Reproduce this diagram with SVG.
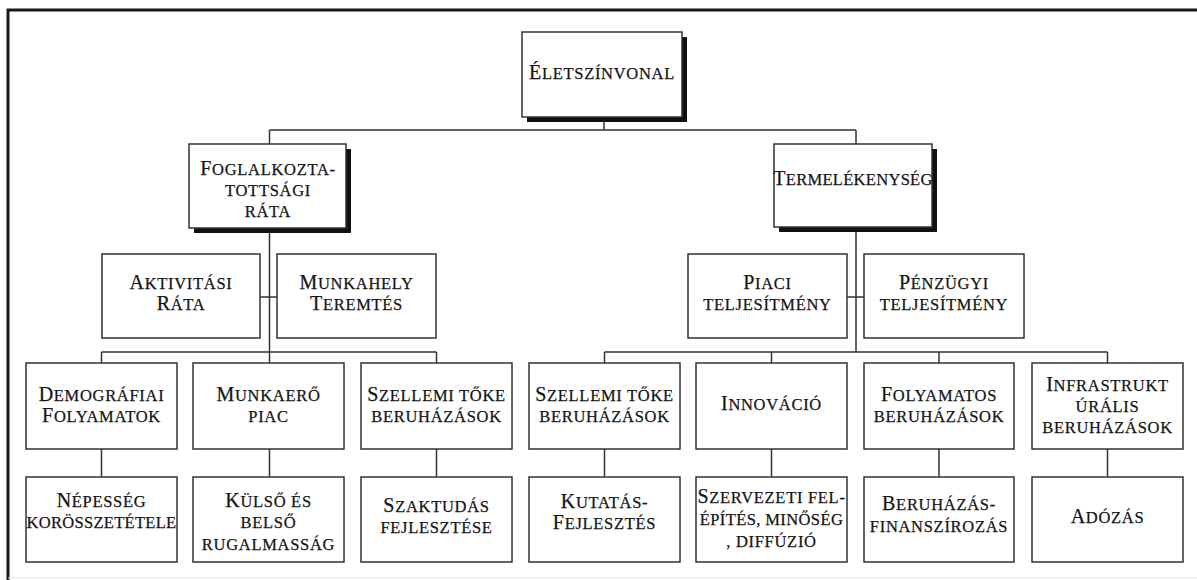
<svg xmlns="http://www.w3.org/2000/svg" width="1197" height="580" viewBox="0 0 1197 580">
<style>
.box{fill:#fff;stroke:#333;stroke-width:1.5}
.sh{fill:#111}
.t{font-family:"Liberation Serif","Times New Roman",serif;font-size:16.5px;fill:#151515;stroke:#151515;stroke-width:0.25px;text-anchor:middle;letter-spacing:0.7px}
.c{font-size:20px}
.ln{stroke:#333;stroke-width:1.5;fill:none}
.frame{stroke:#1a1a1a;stroke-width:3;fill:none}
</style>
<rect x="0" y="0" width="1197" height="580" fill="#fff"/>
<g id="frame">
<path class="frame" d="M8 580 V10 H1197"/>
<path d="M8 578 H1197" stroke="#e2e2e2" stroke-width="1"/>
</g>
<g id="connectors">
<path class="ln" d="M604 118 V130 M269.5 130 H856 M269.5 130 V144 M856 130 V144"/>
<path class="ln" d="M269.5 228 V363 M260 297 H277"/>
<path class="ln" d="M856 227 V352 M847 297 H864"/>
<path class="ln" d="M101.5 352 H436.5 M101.5 352 V363 M436.5 352 V363"/>
<path class="ln" d="M604.5 352 H1107.5 M604.5 352 V363 M771.5 352 V363 M939 352 V363 M1107.5 352 V363"/>
<path class="ln" d="M101.5 449 V477 M269.5 449 V477 M436.5 449 V477 M604.5 449 V477 M771.5 449 V477 M939 449 V477 M1107.5 449 V477"/>
</g>
<g id="n-eletszinvonal">
<rect class="sh" x="527" y="37" width="160" height="85"/>
<rect class="box" x="522" y="32" width="160" height="85"/>
<text class="t" x="602" y="79"><tspan class="c">É</tspan>LETSZÍNVONAL</text>
</g>
<g id="n-foglalkoztatottsagi-rata">
<rect class="sh" x="194" y="149" width="157" height="84"/>
<rect class="box" x="189" y="144" width="157" height="84"/>
<text class="t" x="268" y="175"><tspan class="c">F</tspan>OGLALKOZTA-</text>
<text class="t" x="268" y="196">TOTTSÁGI</text>
<text class="t" x="268" y="217">RÁTA</text>
</g>
<g id="n-termelekenyseg">
<rect class="sh" x="779" y="149" width="158" height="83"/>
<rect class="box" x="774" y="144" width="158" height="83"/>
<text class="t" x="853" y="185" style="letter-spacing:0.3px"><tspan class="c">T</tspan>ERMELÉKENYSÉG</text>
</g>
<g id="n-aktivitasi-rata">
<rect class="box" x="102" y="254" width="158" height="84"/>
<text class="t" x="181" y="289"><tspan class="c">A</tspan>KTIVITÁSI</text>
<text class="t" x="181" y="310"><tspan class="c">R</tspan>ÁTA</text>
</g>
<g id="n-munkahely-teremtes">
<rect class="box" x="277" y="254" width="159" height="84"/>
<text class="t" x="356.5" y="289"><tspan class="c">M</tspan>UNKAHELY</text>
<text class="t" x="356.5" y="310"><tspan class="c">T</tspan>EREMTÉS</text>
</g>
<g id="n-piaci-teljesitmeny">
<rect class="box" x="688" y="254" width="159" height="84"/>
<text class="t" x="767.5" y="289"><tspan class="c">P</tspan>IACI</text>
<text class="t" x="767.5" y="310">TELJESÍTMÉNY</text>
</g>
<g id="n-penzugyi-teljesitmeny">
<rect class="box" x="864" y="254" width="160" height="84"/>
<text class="t" x="944" y="289"><tspan class="c">P</tspan>ÉNZÜGYI</text>
<text class="t" x="944" y="310">TELJESÍTMÉNY</text>
</g>
<g id="n-demografiai">
<rect class="box" x="26" y="363" width="151" height="86"/>
<text class="t" x="101.5" y="401"><tspan class="c">D</tspan>EMOGRÁFIAI</text>
<text class="t" x="101.5" y="422"><tspan class="c">F</tspan>OLYAMATOK</text>
</g>
<g id="n-munkaero-piac">
<rect class="box" x="193" y="363" width="151" height="86"/>
<text class="t" x="268.5" y="401"><tspan class="c">M</tspan>UNKAERŐ</text>
<text class="t" x="268.5" y="422">PIAC</text>
</g>
<g id="n-szellemi-toke-1">
<rect class="box" x="361" y="363" width="151" height="86"/>
<text class="t" x="436.5" y="401"><tspan class="c">S</tspan>ZELLEMI TŐKE</text>
<text class="t" x="436.5" y="422">BERUHÁZÁSOK</text>
</g>
<g id="n-szellemi-toke-2">
<rect class="box" x="529" y="363" width="151" height="86"/>
<text class="t" x="604.5" y="401"><tspan class="c">S</tspan>ZELLEMI TŐKE</text>
<text class="t" x="604.5" y="422">BERUHÁZÁSOK</text>
</g>
<g id="n-innovacio">
<rect class="box" x="696" y="363" width="151" height="86"/>
<text class="t" x="771.5" y="410"><tspan class="c">I</tspan>NNOVÁCIÓ</text>
</g>
<g id="n-folyamatos">
<rect class="box" x="864" y="363" width="150" height="86"/>
<text class="t" x="939" y="401"><tspan class="c">F</tspan>OLYAMATOS</text>
<text class="t" x="939" y="422">BERUHÁZÁSOK</text>
</g>
<g id="n-infrastrukturalis">
<rect class="box" x="1032" y="363" width="151" height="86"/>
<text class="t" x="1107.5" y="391"><tspan class="c">I</tspan>NFRASTRUKT</text>
<text class="t" x="1107.5" y="412">ÚRÁLIS</text>
<text class="t" x="1107.5" y="433">BERUHÁZÁSOK</text>
</g>
<g id="n-nepesseg">
<rect class="box" x="26" y="477" width="151" height="85"/>
<text class="t" x="101.5" y="507"><tspan class="c">N</tspan>ÉPESSÉG</text>
<text class="t" x="101.5" y="528" style="letter-spacing:0.3px">KORÖSSZETÉTELE</text>
</g>
<g id="n-kulso-belso">
<rect class="box" x="193" y="477" width="151" height="85"/>
<text class="t" x="268.5" y="507"><tspan class="c">K</tspan>ÜLSŐ ÉS</text>
<text class="t" x="268.5" y="528">BELSŐ</text>
<text class="t" x="268.5" y="550">RUGALMASSÁG</text>
</g>
<g id="n-szaktudas">
<rect class="box" x="361" y="477" width="151" height="85"/>
<text class="t" x="436.5" y="512"><tspan class="c">S</tspan>ZAKTUDÁS</text>
<text class="t" x="436.5" y="533">FEJLESZTÉSE</text>
</g>
<g id="n-kutatas">
<rect class="box" x="529" y="477" width="151" height="85"/>
<text class="t" x="604.5" y="508"><tspan class="c">K</tspan>UTATÁS-</text>
<text class="t" x="604.5" y="529"><tspan class="c">F</tspan>EJLESZTÉS</text>
</g>
<g id="n-szervezeti">
<rect class="box" x="696" y="477" width="151" height="85"/>
<text class="t" x="771.5" y="503"><tspan class="c">S</tspan>ZERVEZETI FEL-</text>
<text class="t" x="771.5" y="525" style="letter-spacing:0.4px">ÉPÍTÉS, MINŐSÉG</text>
<text class="t" x="771.5" y="547">, DIFFÚZIÓ</text>
</g>
<g id="n-beruhazas">
<rect class="box" x="864" y="477" width="150" height="85"/>
<text class="t" x="939" y="510"><tspan class="c">B</tspan>ERUHÁZÁS-</text>
<text class="t" x="939" y="532">FINANSZÍROZÁS</text>
</g>
<g id="n-adozas">
<rect class="box" x="1032" y="477" width="151" height="85"/>
<text class="t" x="1107.5" y="523"><tspan class="c">A</tspan>DÓZÁS</text>
</g>
</svg>
